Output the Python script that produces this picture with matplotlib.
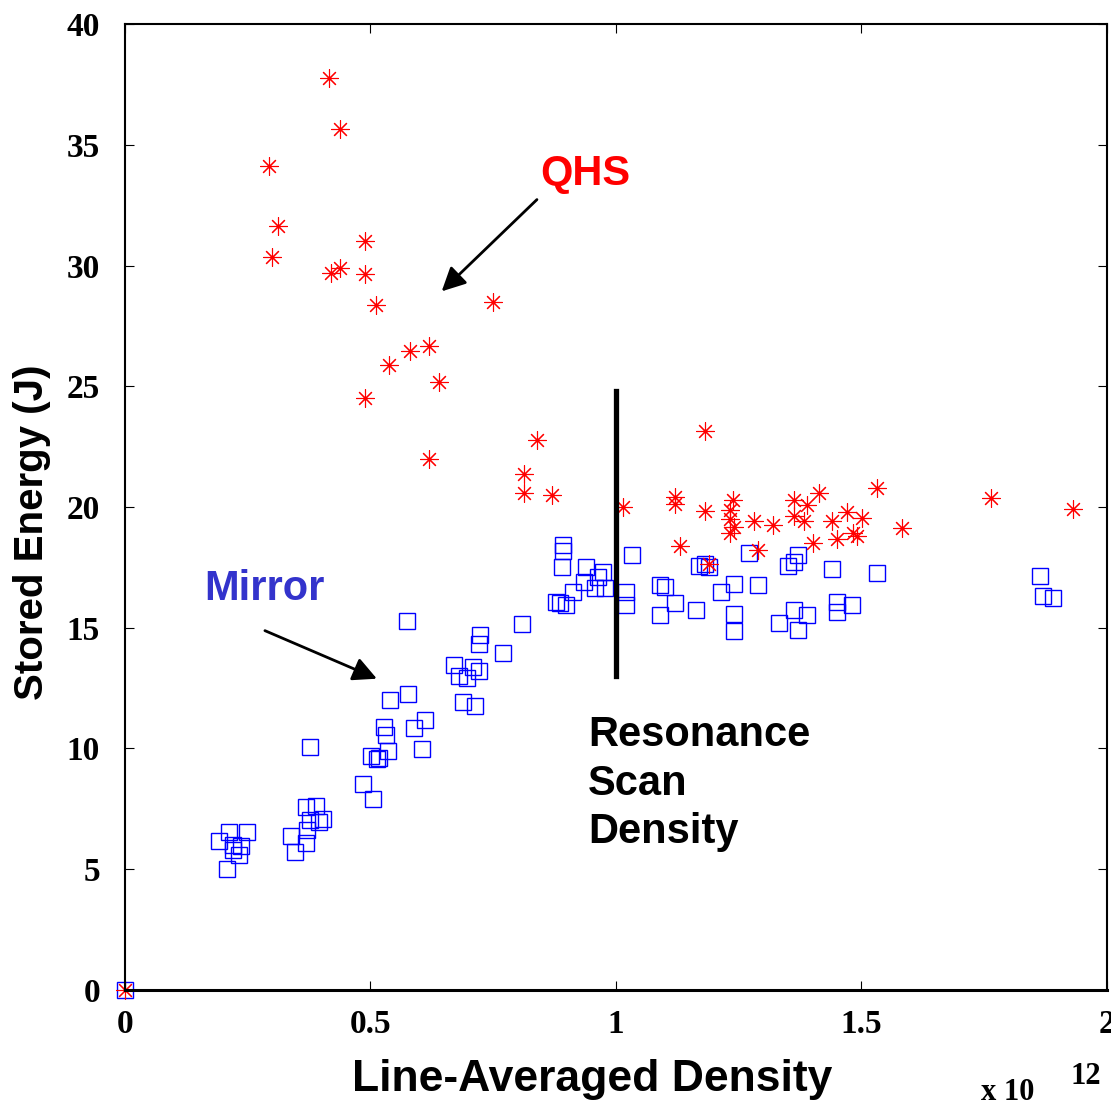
import numpy as np
import matplotlib.pyplot as plt

# --- Data (density in 1e12, stored energy in J) ---
qhs_n = [0.0, 0.415, 0.438, 0.293, 0.312, 0.300, 0.489, 0.420, 0.438, 0.489,
         0.511, 0.750, 0.619, 0.580, 0.538, 0.639, 0.489, 0.839, 0.812, 0.812,
         0.870, 0.619, 1.014, 1.181, 1.120, 1.120, 1.181, 1.130, 1.189, 1.238,
         1.232, 1.232, 1.240, 1.232, 1.281, 1.320, 1.290, 1.362, 1.362, 1.389,
         1.383, 1.413, 1.401, 1.440, 1.470, 1.501, 1.450, 1.483, 1.491, 1.532,
         1.582, 1.764, 1.931]
qhs_w = [0.0, 37.77, 35.66, 34.13, 31.65, 30.37, 31.03, 29.71, 29.88, 29.63,
         28.35, 28.47, 26.65, 26.45, 25.87, 25.17, 24.50, 22.77, 21.36, 20.58,
         20.50, 22.00, 20.00, 23.14, 20.41, 20.12, 19.83, 18.39, 17.64, 20.29,
         19.88, 19.50, 19.17, 18.93, 19.42, 19.26, 18.22, 20.29, 19.63, 20.08,
         19.42, 20.58, 18.51, 19.42, 19.79, 19.55, 18.68, 18.93, 18.80, 20.79,
         19.13, 20.37, 19.92]

mirror_n = [0.0, 0.207, 0.191, 0.212, 0.248, 0.220, 0.236, 0.220, 0.232, 0.346,
            0.369, 0.338, 0.370, 0.377, 0.395, 0.403, 0.369, 0.389, 0.377, 0.505,
            0.485, 0.501, 0.513, 0.517, 0.536, 0.605, 0.532, 0.527, 0.589, 0.611,
            0.540, 0.576, 0.689, 0.713, 0.680, 0.697, 0.721, 0.709, 0.670, 0.770,
            0.721, 0.723, 0.574, 0.808, 0.878, 0.886, 0.898, 0.912, 0.935, 0.957,
            0.978, 0.963, 0.974, 0.939, 0.890, 0.892, 0.892, 1.032, 1.020, 1.020,
            1.090, 1.100, 1.120, 1.090, 1.163, 1.169, 1.181, 1.189, 1.214, 1.240,
            1.240, 1.240, 1.271, 1.290, 1.332, 1.362, 1.371, 1.389, 1.350, 1.362,
            1.371, 1.440, 1.450, 1.450, 1.481, 1.532, 1.864, 1.870, 1.890]
mirror_w = [0.0, 5.00, 6.16, 6.53, 6.53, 5.99, 5.95, 5.79, 5.58, 5.70,
            6.07, 6.36, 6.61, 7.02, 6.94, 7.10, 7.56, 7.60, 10.08, 7.89,
            8.55, 9.71, 9.55, 9.60, 9.88, 9.96, 10.54, 10.91, 10.83, 11.20,
            12.02, 12.27, 11.94, 11.78, 13.02, 12.93, 13.22, 13.39, 13.47, 13.97,
            14.34, 14.71, 15.29, 15.17, 16.05, 16.03, 15.96, 16.50, 16.90, 16.63,
            16.63, 17.10, 17.30, 17.50, 17.50, 18.16, 18.43, 18.03, 16.50, 15.96,
            16.78, 16.69, 16.03, 15.54, 15.74, 17.56, 17.63, 17.52, 16.49, 16.82,
            15.58, 14.88, 18.10, 16.78, 15.21, 15.74, 14.92, 15.54, 17.56, 17.73,
            18.02, 17.44, 16.07, 15.66, 15.95, 17.27, 17.15, 16.32, 16.24]

resonance_n = 1.0
resonance_w = [13.0, 24.8]

xticks = [0, 0.5, 1, 1.5, 2]
xticklabels = ['0', '0.5', '1', '1.5', '2']
yticks = [0, 5, 10, 15, 20, 25, 30, 35, 40]

sans = 'Liberation Sans'
serif = 'Liberation Serif'

# --- Figure ---
fig = plt.figure(figsize=(11.11, 11.07), dpi=100)
ax = fig.add_axes([0.1125, 0.1057, 0.8839, 0.8726])

ax.plot(mirror_n, mirror_w, 's', ms=11, mfc='none', mec='#0000ff', mew=1.0,
        clip_on=False)
ax.plot(qhs_n, qhs_w, marker=(8, 2, 0), ls='none', ms=13, mec='#ff0000',
        mew=0.8, clip_on=False)

ax.plot([resonance_n, resonance_n], resonance_w, '-', color='black', lw=3.8)

ax.set_xlim(0, 2)
ax.set_ylim(0, 40)
ax.set_xticks(xticks)
ax.set_xticklabels(xticklabels)
ax.set_yticks(yticks)
for lbl in ax.get_xticklabels() + ax.get_yticklabels():
    lbl.set_fontfamily(serif)
    lbl.set_fontweight('bold')
    lbl.set_fontsize(24)
ax.tick_params(direction='in', length=6.5, width=0.8, top=True, right=True)
ax.tick_params(axis='x', pad=14)
ax.tick_params(axis='y', pad=18)
for s in ax.spines.values():
    s.set_linewidth(1.5)
ax.spines['bottom'].set_linewidth(2.2)

# --- Annotations ---
ax.text(0.937, 33.8, 'QHS', color='#ff0000', fontsize=30, fontweight='bold',
        family=sans, ha='center', va='center')
ax.annotate('', xy=(0.645, 28.93), xytext=(0.839, 32.73),
            arrowprops=dict(arrowstyle='-|>', color='black', lw=2,
                            mutation_scale=36, shrinkA=0, shrinkB=0))

ax.text(0.285, 16.6, 'Mirror', color='#3333cc', fontsize=30, fontweight='bold',
        family=sans, ha='center', va='center')
ax.annotate('', xy=(0.513, 12.89), xytext=(0.285, 14.88),
            arrowprops=dict(arrowstyle='-|>', color='black', lw=2,
                            mutation_scale=36, shrinkA=0, shrinkB=0))

ax.text(0.943, 8.55, 'Resonance\nScan\nDensity', color='black', fontsize=30,
        fontweight='bold', family=sans, ha='left', va='center', linespacing=1.28)

# --- Axis labels ---
fig.text(592 / 1111, 1 - 1080 / 1107, 'Line-Averaged Density', fontsize=32,
         fontweight='bold', family=sans, ha='center', va='center')
fig.text(32 / 1111, 1 - 532 / 1107, 'Stored Energy (J)', fontsize=29,
         fontweight='bold', family=sans, ha='center', va='center', rotation=90)
fig.text(1008 / 1111, 1 - 1093 / 1107, 'x 10', fontsize=22, fontweight='bold',
         family=serif, ha='center', va='center')
fig.text(1086 / 1111, 1 - 1076 / 1107, '12', fontsize=22, fontweight='bold',
         family=serif, ha='center', va='center')

plt.savefig('out.png', dpi=100)
